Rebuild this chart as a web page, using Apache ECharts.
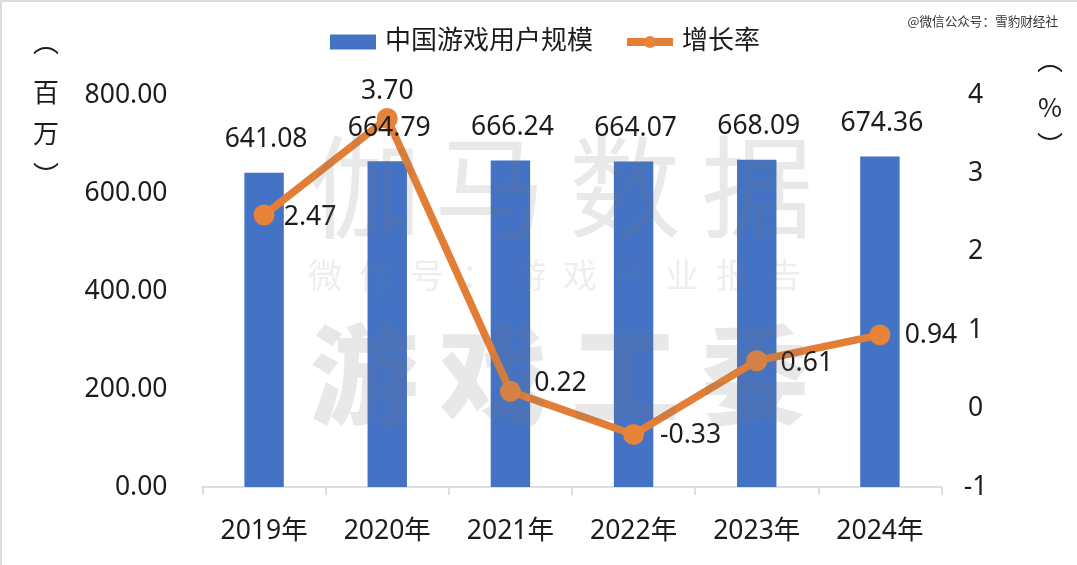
<!DOCTYPE html>
<html><head><meta charset="utf-8">
<style>html,body{margin:0;padding:0;background:#fff}#c{width:1077px;height:565px}</style>
<script src="https://cdn.jsdelivr.net/npm/echarts@6/dist/echarts.min.js"></script>
</head><body><div id="c"></div>
<script>
const categories = ['2019年','2020年','2021年','2022年','2023年','2024年'];
const users = [641.08,664.79,666.24,664.07,668.09,674.36];
const growth = [2.47,3.70,0.22,-0.33,0.61,0.94];
const FONT = '"Noto Sans","Noto Sans CJK SC",sans-serif';
const growthLabelPos = [[46,3],[0,-27],[50,-8],[57,1],[50,3],[51,1]];
const wmTop = ['伽','马','数','据'];
const wmTopX = [365,490,625,757];
const wmMid = ['微','信','号','：','游','戏','产','业','报','告'];
const wmBottom = ['游','戏','工','委'];
const wmBottomX = [364,493,625,755];
const leftUnit = ['︵','百','万','︶'];
const leftUnitY = [42.5,92,133,175];
const rightUnit = ['︵','%','︶'];
const rightUnitY = [60.5,107,145];
const chart = echarts.init(document.getElementById('c'));
const wm = (x,y,text,size,weight,color) => ({type:'text',z:50,silent:true,x,y,
  style:{text,font:`${weight} ${size}px "Noto Sans CJK SC"`,fill:color,textAlign:'center',textVerticalAlign:'middle'}});
const unit = (x,y,text) => ({type:'text',z:60,silent:true,x,y,
  style:{text,font:'26px "Noto Sans CJK SC"',fill:'#1c1c1c',textAlign:'center',textVerticalAlign:'middle'}});
chart.setOption({
  animation:false,
  backgroundColor:'#fff',
  textStyle:{fontFamily:FONT},
  legend:{top:24,left:325,itemGap:30,itemWidth:46,itemHeight:15,
    textStyle:{fontSize:26,color:'#1c1c1c',fontFamily:FONT,padding:[0,0,0,4]},
    data:[{name:'中国游戏用户规模',icon:'rect'},{name:'增长率',lineStyle:{width:8,color:'#E37E36'}}]},
  grid:{left:202.5,right:135.5,top:95,bottom:78},
  xAxis:{type:'category',data:categories,
    axisLine:{lineStyle:{color:'#d4d4d4',width:1.5}},
    axisTick:{show:true,length:8,lineStyle:{color:'#d4d4d4',width:1.5}},
    axisLabel:{fontSize:26.5,color:'#1c1c1c',margin:31}},
  yAxis:[
    {type:'value',min:0,max:800,interval:200,
     axisLabel:{fontSize:26.5,color:'#1c1c1c',margin:35,padding:[0,0,4,0],formatter:v=>v.toFixed(2)},
     axisLine:{show:false},axisTick:{show:false},splitLine:{show:false}},
    {type:'value',min:-1,max:4,interval:1,
     axisLabel:{fontSize:26.5,color:'#1c1c1c',margin:34,padding:[0,0,4,0],align:'center'},
     axisLine:{show:false},axisTick:{show:false},splitLine:{show:false}}
  ],
  series:[
    {name:'中国游戏用户规模',type:'bar',data:users,barWidth:'32%',
     itemStyle:{color:'#4472C4'},z:2},
    {name:'增长率',type:'line',yAxisIndex:1,z:5,
     data:growth.map((v,i)=>({value:v,label:{offset:growthLabelPos[i]}})),
     symbol:'circle',symbolSize:21,
     lineStyle:{color:'#E37E36',width:7.5},
     itemStyle:{color:'#E8833A'},
     label:{show:true,position:'inside',fontSize:26.5,color:'#1c1c1c',formatter:p=>p.value.toFixed(2)}},
    {name:'数值',type:'bar',data:users,barWidth:'32%',barGap:'-100%',z:6,
     itemStyle:{color:'rgba(0,0,0,0)'},
     label:{show:true,position:'top',distance:20,offset:[2,0],fontSize:26.5,color:'#1c1c1c',formatter:p=>p.value.toFixed(2)}}
  ],
  graphic:[
    {type:'rect',silent:true,z:60,shape:{x:0,y:0,width:1077,height:2},style:{fill:'#dcdcdc'}},
    {type:'rect',silent:true,z:60,shape:{x:0,y:0,width:2,height:565},style:{fill:'#dcdcdc'}},
    ...wmTop.map((t,i)=>wm(wmTopX[i],187,t,112,400,'rgba(120,120,120,0.16)')),
    ...wmMid.map((t,i)=>wm(325+i*51,275,t,34,400,'rgba(120,120,120,0.13)')),
    ...wmBottom.map((t,i)=>wm(wmBottomX[i],375,t,108,900,'rgba(120,120,120,0.17)')),
    {type:'text',z:60,silent:true,x:1058,y:21,style:{text:'@微信公众号：雪豹财经社',font:'12.6px "Noto Sans CJK SC"',fill:'#333',textAlign:'right',textVerticalAlign:'middle'}},
    ...leftUnit.map((t,i)=>unit(46,leftUnitY[i],t)),
    ...rightUnit.map((t,i)=>unit(1050,rightUnitY[i],t))
  ]
});
</script></body></html>
